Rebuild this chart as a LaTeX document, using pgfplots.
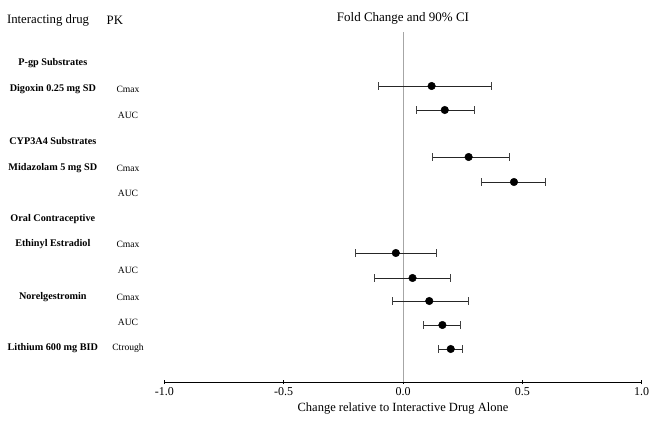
\documentclass[border=0pt]{standalone}
\usepackage{pgfplots}
\pgfplotsset{compat=1.18}
\usepackage{pgfplotstable}
\usepackage{fontspec}
\setmainfont{Liberation Serif}

% y is the row position (in picture units, top down), x the change, lo/hi the 90% CI
\pgfplotstableread{
y   x      lo      hi
86  0.12   -0.105  0.37
110 0.175  0.055   0.30
157 0.275  0.125   0.445
182 0.465  0.33    0.595
253 -0.03  -0.20   0.14
278 0.04   -0.12   0.20
301 0.11   -0.045  0.275
325 0.165  0.085   0.24
349 0.20   0.15    0.25
}\fcdata

\newcommand\grp[1]{{\fontsize{10.2}{12}\selectfont\bfseries #1}}
\newcommand\pk[1]{{\fontsize{9.6}{11}\selectfont #1}}

\begin{document}
\begin{tikzpicture}
\begin{axis}[
  scale only axis,
  width=477.4pt, height=350pt,
  xmin=-1, xmax=1,
  ymin=32, ymax=382, y dir=reverse,
  axis x line=bottom, axis y line=none,
  axis line style={-, black, line width=0.6pt},
  xtick={-1,-0.5,0,0.5,1},
  tick align=center, major tick length=4pt,
  tick style={black, line width=0.6pt},
  xticklabel style={font=\fontsize{12}{14}\selectfont,
    /pgf/number format/.cd, fixed, fixed zerofill, precision=1, assume math mode=true},
  xlabel={Change relative to Interactive Drug Alone},
  xlabel style={font=\fontsize{12.5}{15}\selectfont},
  clip=false,
]
\draw[gray!70, line width=0.7pt] (axis cs:0,32) -- (axis cs:0,382);

\addplot[only marks, mark=*, mark size=3.8pt, black,
  error bars/.cd, x dir=both, x explicit,
  error mark=|,
  error bar style={black!85, line width=0.8pt},
  error mark options={black!75, line width=0.7pt, mark size=3.6pt}]
  table[x=x, y=y,
    x error plus expr=\thisrow{hi}-\thisrow{x},
    x error minus expr=\thisrow{x}-\thisrow{lo}] {\fcdata};

% headers
\node[font=\fontsize{12.8}{15}\selectfont] at (axis cs:-1.487,20) {Interacting drug};
\node[font=\fontsize{12.8}{15}\selectfont] at (axis cs:-1.207,20) {PK};
\node[font=\fontsize{13}{15}\selectfont] at (axis cs:0,18) {Fold Change and 90\% CI};

% row labels
\node at (axis cs:-1.467,63)  {\grp{P-gp Substrates}};
\node at (axis cs:-1.467,89)  {\grp{Digoxin 0.25 mg SD}};
\node at (axis cs:-1.467,141) {\grp{CYP3A4 Substrates}};
\node at (axis cs:-1.467,168) {\grp{Midazolam 5 mg SD}};
\node at (axis cs:-1.467,219) {\grp{Oral Contraceptive}};
\node at (axis cs:-1.467,244) {\grp{Ethinyl Estradiol}};
\node at (axis cs:-1.467,297) {\grp{Norelgestromin}};
\node at (axis cs:-1.467,348) {\grp{Lithium 600 mg BID}};

\node at (axis cs:-1.152,89)  {\pk{Cmax}};
\node at (axis cs:-1.152,115) {\pk{AUC}};
\node at (axis cs:-1.152,168) {\pk{Cmax}};
\node at (axis cs:-1.152,193) {\pk{AUC}};
\node at (axis cs:-1.152,244) {\pk{Cmax}};
\node at (axis cs:-1.152,270) {\pk{AUC}};
\node at (axis cs:-1.152,297) {\pk{Cmax}};
\node at (axis cs:-1.152,322) {\pk{AUC}};
\node at (axis cs:-1.152,348) {\pk{Ctrough}};
\end{axis}
\path (current axis.south west) ++(-164.3pt,-49pt);
\path (current axis.north east) ++(14.3pt,32pt);
\end{tikzpicture}
\end{document}
